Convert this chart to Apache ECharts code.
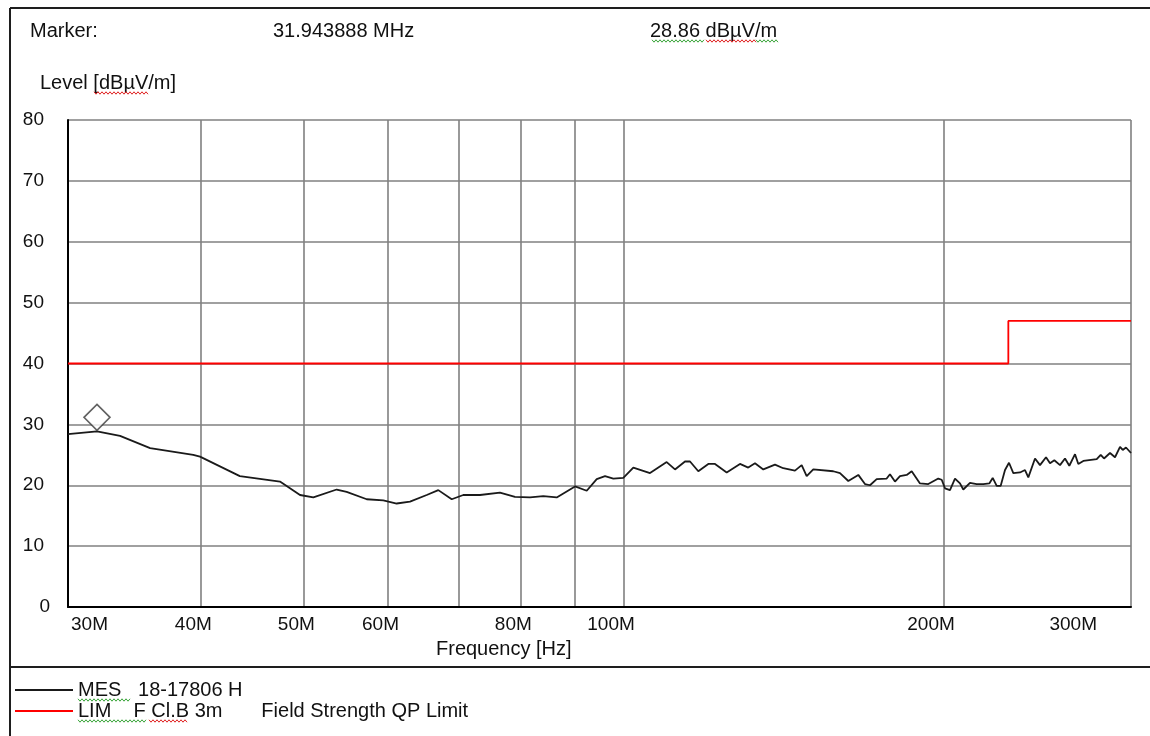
<!DOCTYPE html>
<html>
<head>
<meta charset="utf-8">
<title>Field strength scan</title>
<script src="https://cdn.jsdelivr.net/npm/echarts@6/dist/echarts.min.js"></script>
<style>
  html, body { margin: 0; padding: 0; background: #fff; }
  #chart { width: 1150px; height: 736px; }
</style>
</head>
<body>
<div id="chart"></div>
<script>
// Measured trace: frequency in MHz, level in dBµV/m
const traceFreq = [
  30.00, 31.943888, 33.58, 35.84, 39.35, 39.93, 43.53, 47.48, 49.59, 51.04,
  53.69, 54.86, 57.30, 59.39, 61.14, 62.93, 65.25, 66.91, 68.88, 70.63,
  73.23, 76.47, 79.00, 81.61, 83.99, 86.47, 89.97, 92.28, 94.30, 96.01,
  97.75, 99.89, 102.08, 105.84, 109.73, 111.72, 114.17, 115.42, 117.51, 120.08,
  121.84, 124.96, 128.61, 130.94, 132.86, 135.27, 138.74, 141.25, 144.88, 147.00,
  148.60, 150.74, 157.41, 159.72, 162.62, 166.18, 168.60, 170.44, 172.93, 176.72,
  177.98, 179.92, 181.88, 184.55, 186.56, 189.94, 193.39, 197.62, 199.08, 200.51,
  202.69, 204.90, 207.13, 208.62, 211.67, 214.76, 217.86, 220.71, 222.34, 224.28,
  226.23, 228.35, 230.33, 232.49, 235.89, 238.46, 240.17, 243.68, 246.33, 249.56,
  251.73, 254.09, 257.24, 260.04, 262.48, 265.74, 267.64, 270.56, 278.53, 280.95,
  282.97, 286.67, 289.79, 292.95, 294.67, 296.76, 300.00
];
const traceLevel = [
  28.4, 28.86, 28.1, 26.1, 25.0, 24.7, 21.5, 20.6, 18.4, 18.0,
  19.3, 18.9, 17.7, 17.5, 17.0, 17.3, 18.4, 19.2, 17.7, 18.4,
  18.4, 18.8, 18.1, 18.0, 18.2, 18.0, 19.8, 19.1, 21.0, 21.5,
  21.1, 21.2, 22.9, 22.0, 23.8, 22.6, 23.9, 23.9, 22.3, 23.5,
  23.5, 22.1, 23.5, 22.9, 23.6, 22.6, 23.4, 22.8, 22.4, 23.3,
  21.5, 22.6, 22.3, 22.0, 20.7, 21.7, 20.2, 20.0, 21.0, 21.1,
  21.8, 20.6, 21.5, 21.7, 22.3, 20.3, 20.2, 21.1, 20.9, 19.5,
  19.2, 21.1, 20.3, 19.3, 20.4, 20.2, 20.2, 20.3, 21.2, 19.9,
  19.9, 22.5, 23.7, 22.0, 22.1, 22.5, 21.3, 24.4, 23.3, 24.6,
  23.6, 24.1, 23.3, 24.4, 23.2, 25.1, 23.5, 24.0, 24.3, 25.0,
  24.4, 25.3, 24.6, 26.3, 25.8, 26.2, 25.3
];

// QP limit (class B, 3 m)
const limitFreq = [30, 230, 230, 300];
const limitLevel = [40, 40, 47, 47];

// Marker reading
const markerFreq = 31.943888;
const markerLevel = 28.86;

// Axis grid and label frequencies (MHz), level ticks
const gridFreq = [30, 40, 50, 60, 70, 80, 90, 100, 200, 300];
const labelFreq = [30, 40, 50, 60, 80, 100, 200, 300];
const levelMin = 0, levelMax = 80, levelStep = 10;

const seriesNames = ['MES   18-17806 H', 'LIM    F Cl.B 3m       Field Strength QP Limit'];

const FONT = "'Liberation Sans', Arial, sans-serif";
const lg = Math.log10;
const pairs = (xs, ys) => xs.map((f, i) => [lg(f), ys[i]]);

// Edge labels sit inside the plot, the others hang just right of their grid line
function labelKey(mhz) {
  if (mhz === 30) return 'first';
  if (mhz === 300) return 'last';
  return 'mid';
}

// Wavy proofing underline drawn under a run of text
function squiggle(x0, x1, y, color) {
  const pts = [];
  let k = 0;
  for (let x = x0; x <= x1; x += 2, k++) pts.push([x, y + (k % 2 ? 1.2 : -1.2)]);
  return {
    type: 'polyline', silent: true, z: 10,
    shape: { points: pts },
    style: { stroke: color, lineWidth: 1, fill: null }
  };
}

function hline(x0, x1, y) {
  return { type: 'line', silent: true, shape: { x1: x0, y1: y, x2: x1, y2: y },
           style: { stroke: '#1e1e1e', lineWidth: 2 } };
}
function vline(x, y0, y1) {
  return { type: 'line', silent: true, shape: { x1: x, y1: y0, x2: x, y2: y1 },
           style: { stroke: '#1e1e1e', lineWidth: 2 } };
}
function label(text, x, y) {
  return { type: 'text', silent: true, x: x, y: y,
           style: { text: text, font: '20px ' + FONT, fill: '#111', textVerticalAlign: 'middle' } };
}

const chart = echarts.init(document.getElementById('chart'), null, { renderer: 'canvas' });

chart.setOption({
  animation: false,
  backgroundColor: '#ffffff',
  textStyle: { fontFamily: FONT },
  grid: { left: 68, right: 19, top: 120, bottom: 129, containLabel: false, outerBoundsMode: 'none' },
  legend: {
    data: seriesNames,
    orient: 'vertical',
    left: 15, top: 680,
    padding: 0,
    itemGap: 1,
    icon: 'rect',
    itemWidth: 58,
    itemHeight: 2,
    selectedMode: false,
    textStyle: { fontSize: 20, color: '#111', fontFamily: FONT, lineHeight: 20 }
  },
  xAxis: {
    type: 'value',
    min: lg(30),
    max: lg(300),
    axisLine: { show: true, onZero: false, lineStyle: { color: '#000', width: 2 } },
    axisTick: { show: false, customValues: gridFreq.map(lg) },
    splitLine: { show: true, lineStyle: { color: '#808080', width: 1.6 } },
    axisLabel: {
      customValues: labelFreq.map(lg),
      showMinLabel: true,
      showMaxLabel: true,
      align: 'right',
      margin: 8,
      fontSize: 19,
      color: '#111',
      fontFamily: FONT,
      formatter: function (v) {
        const mhz = Math.round(Math.pow(10, v));
        return '{' + labelKey(mhz) + '|' + mhz + 'M}';
      },
      rich: {
        first: { padding: [0, -40, 0, 0] },
        mid: { padding: [0, -11, 0, 0] },
        last: { padding: [0, 34, 0, 0] }
      }
    }
  },
  yAxis: {
    type: 'value',
    min: levelMin,
    max: levelMax,
    interval: levelStep,
    axisLine: { show: true, lineStyle: { color: '#000', width: 2 } },
    axisTick: { show: false },
    splitLine: { show: true, lineStyle: { color: '#808080', width: 1.6 } },
    axisLabel: {
      margin: 24,
      fontSize: 19,
      color: '#111',
      fontFamily: FONT,
      formatter: function (v) {
        return v === 0 ? '{zero|0}' : String(v);
      },
      rich: { zero: { padding: [0, -6, 0, 0] } }
    }
  },
  series: [
    {
      name: seriesNames[0],
      type: 'line',
      data: pairs(traceFreq, traceLevel),
      symbol: 'none',
      lineStyle: { color: '#1a1a1a', width: 1.8 },
      itemStyle: { color: '#1a1a1a' },
      z: 3
    },
    {
      name: seriesNames[1],
      type: 'line',
      data: pairs(limitFreq, limitLevel),
      symbol: 'none',
      lineStyle: { color: '#ff0000', width: 1.8 },
      itemStyle: { color: '#ff0000' },
      z: 2
    },
    {
      name: 'marker',
      type: 'scatter',
      data: [[lg(markerFreq), markerLevel]],
      symbol: 'diamond',
      symbolSize: [26, 26],
      symbolOffset: [0, -14],
      itemStyle: { color: '#ffffff', borderColor: '#3a3a3a', borderWidth: 1.6 },
      z: 4
    }
  ],
  graphic: [
    // page frame and legend separator
    hline(10, 1150, 8),
    vline(10, 8, 736),
    hline(10, 1150, 667),
    // header
    label('Marker:', 30, 31),
    label(markerFreq.toFixed(6) + ' MHz', 273, 31),
    label(markerLevel.toFixed(2) + ' dBµV/m', 650, 31),
    label('Level [dBµV/m]', 40, 83),
    label('Frequency [Hz]', 436, 649),
    // proofing underlines
    squiggle(652, 704, 41, '#3aa53a'),
    squiggle(706, 756, 41, '#e02020'),
    squiggle(756, 778, 41, '#3aa53a'),
    squiggle(94, 148, 93, '#e02020'),
    squiggle(78, 131, 700, '#3aa53a'),
    squiggle(78, 147, 721, '#3aa53a'),
    squiggle(149, 187, 721, '#e02020')
  ]
});
</script>
</body>
</html>
